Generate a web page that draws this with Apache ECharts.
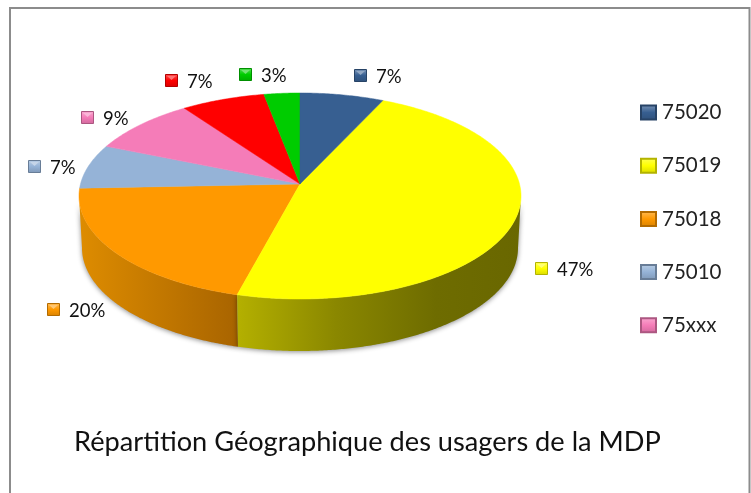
<!DOCTYPE html>
<html>
<head>
<meta charset="utf-8">
<style>html,body{margin:0;padding:0;background:#fff}#c{width:751px;height:493px}</style>
<script src="https://cdn.jsdelivr.net/npm/echarts@6/dist/echarts.min.js"></script>
</head>
<body>
<div id="c"></div>
<script>
const categories = ['75020', '75019', '75018', '75010', '75xxx', 'Autre 1', 'Autre 2'];
const values = [7, 47, 20, 7, 9, 7, 3];
const legendItems = ['75020', '75019', '75018', '75010', '75xxx'];
const titleText = 'Répartition Géographique des usagers de la MDP';

const colors = ['#375F91', '#FFFF00', '#FF9900', '#95B3D7', '#F57CB8', '#FF0000', '#00CC00'];
const wallStops = [null,
  [[0, '#B4B000'], [0.35, '#8A8700'], [0.7, '#6E6C00'], [1, '#696700']],
  [[0, '#DE8C00'], [1, '#A86400']], null, null, null, null];
const labelBoxes = [[354, 69], [535, 262], [47, 303], [28, 160], [81, 111], [165, 74], [239, 68]];

const geo = { cx: 300, cy: 196, rx: 221, ry: 103, apexY: 184, depth: 52, botRx: 218 };
const total = values.reduce((a, b) => a + b, 0);
// projective mapping: true pie angle -> parametric angle on the tilted ellipse
const k = 0.87;
function param(theta) {
  const h = theta / 2;
  let t = 2 * Math.atan2(k * Math.sin(h), Math.cos(h));
  if (t < 0) t += 2 * Math.PI;
  return t;
}
function topPt(t) { return [geo.cx + geo.rx * Math.sin(t), geo.cy - geo.ry * Math.cos(t)]; }
function botPt(t) { return [geo.cx + geo.botRx * Math.sin(t), geo.cy + geo.depth - geo.ry * Math.cos(t)]; }
function arcPts(fn, a, b) {
  const n = Math.max(2, Math.ceil(Math.abs(b - a) / 0.01));
  const out = [];
  for (let i = 0; i <= n; i++) out.push(fn(a + (b - a) * i / n));
  return out;
}
function darken(hex, f) {
  const n = parseInt(hex.slice(1), 16);
  const c = [n >> 16, (n >> 8) & 255, n & 255].map(v => Math.round(v * f));
  return 'rgb(' + c.join(',') + ')';
}
function lighten(hex, f) {
  const n = parseInt(hex.slice(1), 16);
  const c = [n >> 16, (n >> 8) & 255, n & 255].map(v => Math.round(v + (255 - v) * f));
  return 'rgb(' + c.join(',') + ')';
}
function sliceAngles(i) {
  let before = 0;
  for (let j = 0; j < i; j++) before += values[j];
  return [before / total * 2 * Math.PI, (before + values[i]) / total * 2 * Math.PI];
}
function bevel(i) {
  return new echarts.graphic.LinearGradient(0, 0, 0, 1, [
    { offset: 0, color: lighten(colors[i], 0.35) },
    { offset: 0.5, color: colors[i] },
    { offset: 1, color: darken(colors[i], 0.85) }]);
}
function makeRender(i) {
  return function () {
    const [a0, a1] = sliceAngles(i);
    const t0 = param(a0), t1 = a1 >= 2 * Math.PI - 1e-9 ? 2 * Math.PI : param(a1);
    const children = [];
    const wallFrom = Math.max(t0, Math.PI / 2), wallTo = Math.min(t1, 3 * Math.PI / 2);
    if (wallStops[i] && wallTo > wallFrom) {
      const top = arcPts(topPt, wallFrom, wallTo);
      const bot = arcPts(botPt, wallFrom, wallTo).reverse();
      const xs = top.concat(bot).map(p => p[0]);
      const minX = Math.min(...xs), maxX = Math.max(...xs);
      const stops = wallStops[i];
      children.push({
        type: 'polygon',
        shape: { points: top.concat(bot) },
        style: {
          fill: new echarts.graphic.LinearGradient(minX, 0, maxX, 0,
            stops.map(s => ({ offset: s[0], color: s[1] })), true),
          shadowBlur: 5, shadowColor: 'rgba(0,0,0,0.45)', shadowOffsetX: 0, shadowOffsetY: 1
        }
      });
    }
    const rim = arcPts(topPt, t0, t1);
    children.push({
      type: 'polygon',
      shape: { points: [[geo.cx, geo.apexY]].concat(rim) },
      style: { fill: colors[i], stroke: colors[i], lineWidth: 0.5 },
      z2: 5
    });
    const [bx, by] = labelBoxes[i];
    children.push({
      type: 'rect',
      shape: { x: bx + 0.5, y: by + 0.5, width: 12, height: 12 },
      style: { fill: bevel(i), stroke: darken(colors[i], 0.7), lineWidth: 1 },
      z2: 10
    });
    children.push({
      type: 'polygon',
      shape: { points: [[bx + 2, by + 2], [bx + 11, by + 2], [bx + 6.5, by + 6]] },
      style: { fill: lighten(colors[i], 0.45) },
      z2: 11
    });
    children.push({
      type: 'text',
      style: {
        x: bx + 22, y: by + 8,
        text: values[i] + '%',
        font: '18.5px Lato', fill: '#111', verticalAlign: 'middle', align: 'left'
      },
      z2: 10
    });
    return { type: 'group', children };
  };
}
const order = [2, 1, 3, 4, 5, 6, 0];
const series = order.map(i => ({
  type: 'custom',
  name: categories[i],
  coordinateSystem: 'none',
  silent: true,
  animation: false,
  itemStyle: { color: bevel(i), borderColor: darken(colors[i], 0.7), borderWidth: 1 },
  data: [[values[i]]],
  renderItem: makeRender(i)
}));

const chart = echarts.init(document.getElementById('c'), null, { renderer: 'canvas' });
chart.setOption({
  animation: false,
  backgroundColor: '#fff',
  title: {
    text: titleText, left: 74, top: 429, padding: 0,
    textStyle: { fontFamily: 'Lato', fontSize: 27.2, fontWeight: 'normal', color: '#111' }
  },
  legend: {
    data: legendItems, orient: 'vertical', left: 640, top: 102, padding: 0,
    icon: 'rect', itemWidth: 15, itemHeight: 14, itemGap: 32.2, selectedMode: false,
    textStyle: { fontFamily: 'Lato', fontSize: 20.5, color: '#222', padding: [0, 0, 0, 1] }
  },
  graphic: [{
    type: 'rect', z: -1, silent: true,
    shape: { x: 10, y: 8, width: 739.5, height: 495 },
    style: { fill: 'none', stroke: '#8c8c8c', lineWidth: 2 }
  }],
  series
});
</script>
</body>
</html>
